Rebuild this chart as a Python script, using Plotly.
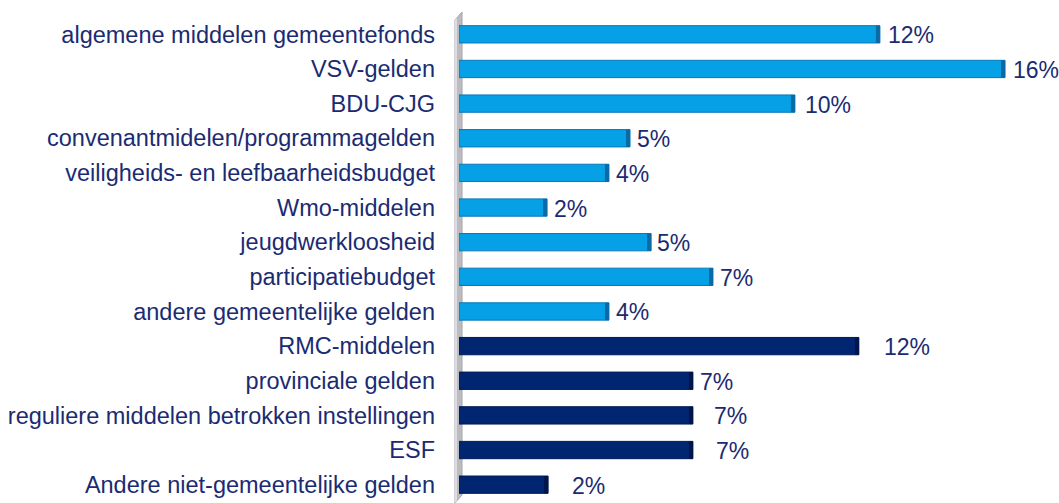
import plotly.graph_objects as go

categories = [
    "algemene middelen gemeentefonds",
    "VSV-gelden",
    "BDU-CJG",
    "convenantmidelen/programmagelden",
    "veiligheids- en leefbaarheidsbudget",
    "Wmo-middelen",
    "jeugdwerkloosheid",
    "participatiebudget",
    "andere gemeentelijke gelden",
    "RMC-middelen",
    "provinciale gelden",
    "reguliere middelen betrokken instellingen",
    "ESF",
    "Andere niet-gemeentelijke gelden",
]
values = [12.38, 16.06, 9.88, 5.03, 4.41, 2.59, 5.65, 7.47, 4.41, 11.76, 6.88, 6.88, 6.88, 2.62]
label_text = ["12%", "16%", "10%", "5%", "4%", "2%", "5%", "7%", "4%", "12%", "7%", "7%", "7%", "2%"]
group = ["gemeentelijk"] * 9 + ["niet-gemeentelijk"] * 5

# styles
label_gap = [6, 6, 8, 5, 5, 5, 4, 5, 5, 23, 5, 19, 21, 22]
fill = {"gemeentelijk": "#05a0e6", "niet-gemeentelijk": "#002672"}
edge = {"gemeentelijk": "#0878b8", "niet-gemeentelijk": "#001a55"}
cap = {"gemeentelijk": "#0a6aa6", "niet-gemeentelijk": "#00164a"}
text_color = "#1b2b72"
FONT = "Liberation Sans, Arial, sans-serif"

L, T, W, H = 459.0, 17.0, 600.0, 485.0   # plot area in pixels
PX_PER_UNIT = 34.0
cap_w = 4 / PX_PER_UNIT

fig = go.Figure()
fig.add_trace(go.Bar(
    y=categories,
    x=values,
    orientation="h",
    marker=dict(color=[fill[g] for g in group],
                line=dict(color=[edge[g] for g in group], width=1)),
    hoverinfo="skip",
    showlegend=False,
))
# darker end cap (3D look)
fig.add_trace(go.Bar(
    y=categories,
    x=[cap_w] * len(values),
    base=[v - cap_w for v in values],
    orientation="h",
    marker=dict(color=[cap[g] for g in group], line=dict(width=0)),
    hoverinfo="skip",
    showlegend=False,
))

for c, v, t, gap in zip(categories, values, label_text, label_gap):
    fig.add_annotation(x=v, y=c, text=t, xanchor="left", yanchor="middle",
                       xshift=gap, yshift=-1, showarrow=False,
                       font=dict(size=23, color=text_color, family=FONT))


def px(x):
    return (x - L) / W


def py(y):
    return (T + H - y) / H


# grey "wall" behind the axis
fig.add_shape(type="path", xref="paper", yref="paper", layer="below",
              path=f"M {px(455)} {py(503)} L {px(455)} {py(20)} L {px(462)} {py(12)} L {px(462)} {py(495)} Z",
              fillcolor="#bcbcbc", line=dict(color="#a4a4b0", width=1))
fig.add_shape(type="path", xref="paper", yref="paper", layer="below",
              path=f"M {px(455)} {py(503)} L {px(455)} {py(20)} L {px(457)} {py(18)} L {px(457)} {py(501)} Z",
              fillcolor="#dcdce6", line=dict(width=0))

fig.update_layout(
    width=1059, height=503,
    margin=dict(l=int(L), r=0, t=int(T), b=1),
    paper_bgcolor="white", plot_bgcolor="rgba(0,0,0,0)",
    bargap=0.5, barmode="overlay",
    font=dict(family=FONT, size=23, color=text_color),
    xaxis=dict(range=[0, W / PX_PER_UNIT], visible=False, showgrid=False, zeroline=False),
    yaxis=dict(autorange="reversed", showgrid=False, zeroline=False, showline=False,
               ticks="", ticklabelstandoff=23, automargin=False,
               tickfont=dict(size=23.5, color=text_color)),
)

fig.write_html("out.html", config={"displayModeBar": False},
               post_script="document.body.style.margin='0';")
